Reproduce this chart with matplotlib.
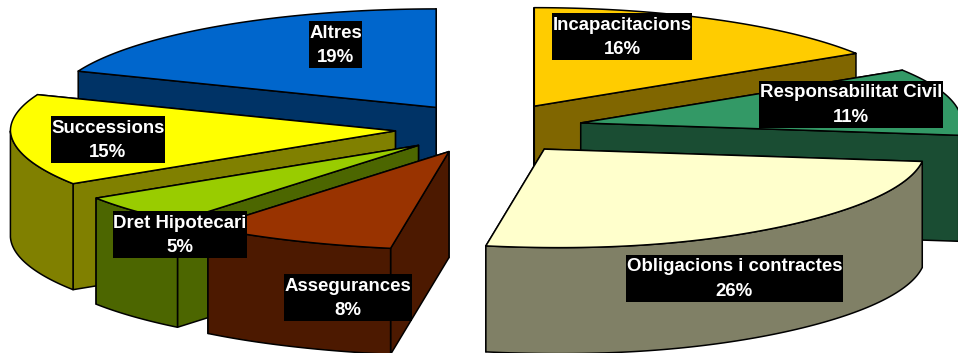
import numpy as np
import matplotlib
matplotlib.use('Agg')
import matplotlib.pyplot as plt
from matplotlib.patches import Polygon, Rectangle

labels = ['Incapacitacions', 'Responsabilitat Civil', 'Obligacions i contractes',
          'Assegurances', 'Dret Hipotecari', 'Successions', 'Altres']
shares = [16, 11, 26, 8, 5, 15, 19]
top_colors = ['#FFCC00', '#339966', '#FFFFCC', '#993300', '#99CC00', '#FFFF00', '#0066CC']
side_colors = ['#806600', '#1A4D33', '#808066', '#4C1900', '#4C6600', '#808000', '#003366']

# pie geometry in picture pixels
CX, CY = 489, 128.5
RX, RX_EXTRA, RY = 381, 4, 98.5
EXPLODE_X, EXPLODE_Y = 94, 25.5
DEPTH = 106
LEAN = 15
BOX_H = 47

# back to front
draw_order = ['Altres', 'Incapacitacions', 'Responsabilitat Civil', 'Successions',
              'Dret Hipotecari', 'Assegurances', 'Obligacions i contractes']
label_pos = {
    'Altres': (335.5, 44.5),
    'Successions': (108, 139.5),
    'Dret Hipotecari': (180, 234.5),
    'Assegurances': (348, 297.5),
    'Obligacions i contractes': (734.5, 278),
    'Responsabilitat Civil': (851, 104),
    'Incapacitacions': (622, 36.5),
}

plt.rcParams['font.family'] = ['Liberation Sans', 'DejaVu Sans']

fig = plt.figure(figsize=(9.58, 3.53), dpi=100)
ax = fig.add_axes([0, 0, 1, 1])
ax.set_xlim(0, 958)
ax.set_ylim(353, 0)
ax.axis('off')

edges = np.cumsum([0] + shares) / sum(shares) * 2 * np.pi


def rim_points(apex, t0, t1):
    t = np.linspace(t0, t1, 80)
    # perspective: the upper left of the ring reaches a little further out
    rx = RX + RX_EXTRA * (np.sin(t) < 0) * np.clip((np.cos(t) + 0.7) / 0.7, 0, 1)
    x = apex[0] + rx * np.sin(t) + LEAN * np.clip(-np.cos(t), 0, 1) ** 8
    y = apex[1] - RY * np.cos(t)
    return np.column_stack([x, y])


def add_poly(pts, color):
    ax.add_patch(Polygon(pts, closed=True, facecolor=color, edgecolor='black',
                         linewidth=1.1, joinstyle='round'))


def draw_slice(i):
    t0, t1 = edges[i], edges[i + 1]
    mid = (t0 + t1) / 2
    apex = (CX + EXPLODE_X * np.sin(mid), CY - EXPLODE_Y * np.cos(mid))
    rim = rim_points(apex, t0, t1)
    drop = np.array([0, DEPTH])

    # radial walls, the one further back first
    corners = sorted([rim[0], rim[-1]], key=lambda p: p[1])
    for c in corners:
        add_poly([apex, c, c + drop, np.array(apex) + drop], side_colors[i])

    # outer wall only where it faces the viewer
    f0, f1 = max(t0, np.pi / 2), min(t1, 3 * np.pi / 2)
    if f1 > f0:
        front = rim_points(apex, f0, f1)
        add_poly(np.vstack([front, (front + drop)[::-1]]), side_colors[i])
    add_poly(np.vstack([[apex], rim]), top_colors[i])


for name in draw_order:
    draw_slice(labels.index(name))

renderer = fig.canvas.get_renderer()
for name in draw_order:
    i = labels.index(name)
    x, y = label_pos[name]
    t = ax.text(x, y + 1, f'{name}\n{shares[i]}%', color='white', fontsize=13.4,
                fontweight='bold', ha='center', va='center', linespacing=1.6, zorder=5)
    w = t.get_window_extent(renderer).width + 1
    ax.add_patch(Rectangle((x - w / 2, y - BOX_H / 2), w, BOX_H, facecolor='black',
                           edgecolor='none', zorder=4))

fig.savefig('out.png', dpi=100)
